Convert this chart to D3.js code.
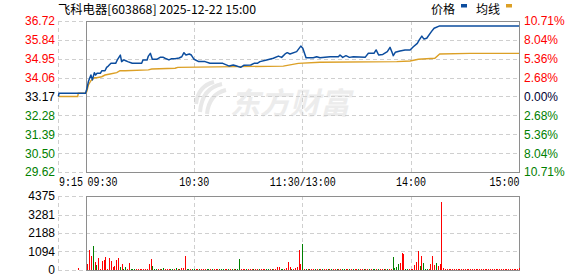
<!DOCTYPE html>
<html>
<head>
<meta charset="utf-8">
<script src="https://cdn.jsdelivr.net/npm/d3@7/dist/d3.min.js"></script>
<style>
  html, body { margin: 0; padding: 0; background: #fff; }
  svg { display: block; }
  text { font-family: "Liberation Sans", Arial, sans-serif; }
  .mono { font-family: "Liberation Mono", "DejaVu Sans Mono", monospace; }
  .cjk { font-family: "Noto Sans CJK SC", sans-serif; }
</style>
</head>
<body>
<svg id="chart" width="578" height="276"></svg>
<script>
// ── Data (minutes counted from 09:30, lunch break removed; negatives = pre-market) ──
const prevClose = 33.17;
const priceTicks = [36.72, 35.84, 34.95, 34.06, 33.17, 32.28, 31.39, 30.50, 29.62];
const pctTicks = ['10.71%', '8.04%', '5.36%', '2.68%', '0.00%', '2.68%', '5.36%', '8.04%', '10.71%'];
const volTicks = [4375, 3281, 2188, 1094, 0];
const timeTicks = [-15, 0, 60, 120, 180, 240];
const timeLabels = ['9:15', '09:30', '10:30', '11:30/13:00', '14:00', '15:00'];

const priceTimes = [-15,-14.7,0,0.7,1.6,2.3,3.0,3.8,4.9,5.6,6.4,8.2,9.0,10.8,11.7,12.6,14.1,16.7,17.8,19.3,
  20.0,21.2,22.3,23.4,25.9,31.1,31.8,34.1,34.8,35.9,37.0,39.4,41.3,43.1,44.0,46.2,47.7,49.6,51.8,53.3,
  54.5,55.6,57.5,58.6,60.1,62.7,66.2,68.9,76.0,79.6,81.8,83.7,85.9,87.8,91.5,93.3,95.1,96.6,100.3,104.0,
  106.8,108.6,110.5,111.7,113.2,116.9,119.2,120.3,122.1,126.1,128.0,129.8,135.4,140.0,140.9,142.4,144.2,146.1,148.3,154.8,
  156.6,159.7,160.9,162.3,164.6,167.1,168.6,169.7,170.4,171.5,174.1,176.9,179.7,181.5,183.7,184.8,186.2,187.4,188.9,191.5,
  193.0,196.1,240];
const priceValues = [33.17,33.32,33.32,33.51,33.87,34.03,34.18,33.95,34.29,34.18,34.26,34.26,34.38,34.38,34.54,34.60,34.73,34.73,34.92,35.12,
  34.81,34.89,34.85,34.81,34.73,34.73,34.89,34.89,35.07,35.20,34.92,34.92,35.01,35.01,34.97,34.89,34.95,34.95,34.98,35.04,
  35.23,35.12,35.17,35.12,34.92,34.81,34.81,34.73,34.73,34.60,34.65,34.60,34.54,34.64,34.65,34.73,34.73,34.81,34.89,34.97,
  35.07,35.01,35.17,35.23,35.17,35.28,35.54,35.44,34.99,34.99,35.04,34.99,35.04,35.04,35.12,35.01,35.09,35.01,35.04,35.01,
  35.20,35.20,35.36,35.12,35.15,35.28,35.48,35.25,35.09,35.25,35.31,35.36,35.36,35.51,35.67,35.83,36.01,35.87,35.91,36.22,
  36.38,36.49,36.49];

const avgTimes = [-15,-4.3,-4.0,0,0.7,1.6,3.0,4.9,6.2,9.0,10.8,13.6,17.3,19.1,21.9,34.8,36.7,49.6,51.1,109.5,
  117.8,129.8,172.3,179.7,184.3,193.4,196.1,212.7,240];
const avgValues = [33.17,33.17,33.32,33.32,33.40,33.71,33.91,34.05,34.05,34.10,34.18,34.23,34.29,34.38,34.38,34.42,34.46,34.50,34.54,34.60,
  34.73,34.78,34.81,34.84,34.92,34.97,35.17,35.20,35.20];

// pre-market auction volume
const auctionTime = -4;
const auctionVolume = 120;
// one bar per minute, 09:31 .. 15:00
const volumes = [
  355,1180,830,1420,470,300,710,60,530,590,770,60,710,530,180,240,590,710,180,355,60,180,60,410,
  60,60,60,60,60,60,60,60,60,60,
  355,650,240,60,60,60,60,60,100,60,
  60,60,60,60,60,100,60,60,100,120,
  830,60,60,60,60,60,60,60,60,60,
  60,60,60,60,60,60,60,60,60,60,
  60,60,60,60,60,60,60,60,60,60,
  650,60,60,60,60,60,60,60,60,60,
  60,60,60,60,60,60,60,60,60,60,
  60,180,180,60,60,60,120,470,180,60,
  60,120,180,1180,355,1540,
  60,60,60,60,60,60,60,60,60,60,
  60,60,60,60,60,60,60,60,60,60,
  60,60,60,60,60,60,60,60,60,60,
  60,60,60,60,60,60,60,60,60,60,
  60,60,60,60,60,60,60,60,60,770,
  120,180,355,410,1000,950,60,60,60,60,
  60,300,470,1120,240,830,410,60,60,60,
  355,830,300,410,240,355,4020,120,60,60,
  60,60,60,60,60,60,60,60,60,60,
  60,60,60,60,60,60,60,60,60,60,
  60,60,60,60,60,60,60,60,60,60,
  60,60,60,60,60,60,60,60,60,120
];
// r = up (red), g = down (green)
const volDir = ('rrrgrgrrrrrrrrrrrrgrggrr' + 'gggrrrrrrr' + 'rrgggrrggr' + 'rrggrgrgrr' + 'rggrggrrgr' +
  'rrggrgrrrg' + 'ggrrgrgrgg' + 'grrrgrrrgr' + 'rgrrrggrgr' + 'rrrggrrrrg' + 'rrrrrg' +
  'rgrgrrgrgr' + 'grrgrgrrgr' + 'rggrrgrgrr' + 'grrgrrgrgg' + 'rgrrgrgrrg' + 'gggrrrggrr' +
  'rrrrgrgggr' + 'rrrgrrrrrr' + 'rrrrrrrrrr' + 'rrrrrrrrrr' + 'rrrrrrrrrr' + 'rrrrrrrrrr').split('');

// ── Layout ──
const svg = d3.select('#chart');
const preX = 58.4, L = 85.5, R = 519;
const pTop = 21, pBot = 172, vTop = 196, vBot = 270;

const x = d3.scaleLinear().domain([-15, 240]).range([preX, R]);
const y = d3.scaleLinear().domain([29.62, 36.72]).range([pBot, pTop]);
const vy = d3.scaleLinear().domain([0, 4375]).range([vBot, vTop]);
const crisp = v => Math.round(v) + 0.5;

const RED = '#ff0000', GREEN = '#008000', BLUE = '#0c4d9e', GOLD = '#dca026';
const GRID = '#cfcfcf', FRAME = '#8e8e8e';

// ── Watermark ──
const wm = svg.append('g').attr('fill', '#ececec');
wm.append('text').attr('class', 'cjk')
  .attr('x', 230).attr('y', 114)
  .attr('font-size', 30).attr('font-weight', 'bold').attr('font-style', 'italic')
  .text('东方财富');
[[200, 112, 222, 84], [207, 114, 226, 90], [196, 104, 214, 82]].forEach(([x0, y0, x1, y1]) => {
  wm.append('path')
    .attr('d', `M${x0},${y0} Q${x0 + 2},${y1 + 4} ${x1},${y1}`)
    .attr('fill', 'none').attr('stroke', '#e8e8e8').attr('stroke-width', 4);
});

// ── Grids ──
function grid(yScale, ticks, top, bot) {
  const g = svg.append('g').attr('shape-rendering', 'crispEdges');
  g.selectAll('line.h').data(ticks).join('line')
    .attr('x1', preX).attr('x2', R)
    .attr('y1', d => crisp(yScale(d))).attr('y2', d => crisp(yScale(d)))
    .attr('stroke', GRID).attr('stroke-dasharray', '4,3');
  g.selectAll('line.v').data([-15, 60, 120, 180]).join('line')
    .attr('x1', d => crisp(x(d))).attr('x2', d => crisp(x(d)))
    .attr('y1', top).attr('y2', bot)
    .attr('stroke', GRID).attr('stroke-dasharray', '4,3');
  g.append('rect')
    .attr('x', crisp(L)).attr('y', crisp(top))
    .attr('width', Math.round(R) - Math.round(L)).attr('height', Math.round(bot) - Math.round(top))
    .attr('fill', 'none').attr('stroke', FRAME);
}
grid(y, priceTicks, pTop, pBot);
grid(vy, volTicks, vTop, vBot);

// ── Price axes ──
const leftColor = (d, i) => i < 4 ? RED : (i === 4 ? '#000' : GREEN);
const rightColor = (d, i) => i < 4 ? RED : (i === 4 ? '#000033' : GREEN);

const yl = svg.append('g').attr('transform', `translate(${preX - 0.4},0)`)
  .call(d3.axisLeft(y).tickValues(priceTicks).tickSize(0).tickPadding(3).tickFormat(d3.format('.2f')));
yl.select('.domain').remove();
yl.selectAll('text').attr('font-size', 12).attr('font-family', '"Liberation Sans", Arial, sans-serif')
  .attr('fill', leftColor);

const yr = svg.append('g').attr('transform', `translate(${R},0)`)
  .call(d3.axisRight(y).tickValues(priceTicks).tickSize(0).tickPadding(5).tickFormat((d, i) => pctTicks[i]));
yr.select('.domain').remove();
yr.selectAll('text').attr('font-size', 12).attr('font-family', '"Liberation Sans", Arial, sans-serif')
  .attr('fill', rightColor);

// ── Volume axis ──
const vl = svg.append('g').attr('transform', `translate(${preX - 0.4},0)`)
  .call(d3.axisLeft(vy).tickValues(volTicks).tickSize(0).tickPadding(3).tickFormat(d3.format('d')));
vl.select('.domain').remove();
vl.selectAll('text').attr('font-size', 12).attr('font-family', '"Liberation Sans", Arial, sans-serif')
  .attr('fill', '#000');

// ── Time axis ──
const xa = svg.append('g').attr('transform', `translate(0,${pBot})`)
  .call(d3.axisBottom(x).tickValues(timeTicks).tickSize(0).tickPadding(5).tickFormat((d, i) => timeLabels[i]));
xa.select('.domain').remove();
xa.selectAll('text')
  .attr('class', 'mono').attr('font-size', 12).attr('fill', '#000')
  .attr('font-family', '"Liberation Mono", "DejaVu Sans Mono", monospace')
  .attr('textLength', (d, i) => timeLabels[i].length * 6)
  .attr('lengthAdjust', 'spacingAndGlyphs')
  .attr('text-anchor', (d, i) => i < 2 ? 'start' : (i === timeTicks.length - 1 ? 'end' : 'middle'))
  .attr('dx', (d, i) => i === 1 ? 1.5 : 0);

// ── Lines ──
const avgLine = d3.line().x(d => x(d[0])).y(d => y(d[1]));
svg.append('path')
  .datum(d3.zip(avgTimes, avgValues))
  .attr('d', avgLine).attr('fill', 'none').attr('stroke', GOLD).attr('stroke-width', 1.4);
svg.append('path')
  .datum(d3.zip(priceTimes, priceValues))
  .attr('d', avgLine).attr('fill', 'none').attr('stroke', BLUE).attr('stroke-width', 1.5)
  .attr('stroke-linejoin', 'round');

// ── Volume bars ──
const volData = volumes.map((v, i) => ({ t: i + 1, v, dir: volDir[i] }));
volData.unshift({ t: auctionTime, v: auctionVolume, dir: 'r' });
svg.append('g').attr('shape-rendering', 'crispEdges')
  .selectAll('rect').data(volData).join('rect')
  .attr('x', d => Math.round(x(d.t)))
  .attr('width', 1)
  .attr('y', d => Math.round(vy(d.v)))
  .attr('height', d => Math.max(1, vBot - Math.round(vy(d.v))))
  .attr('fill', d => d.dir === 'r' ? RED : GREEN);

// ── Title & legend ──
svg.append('text').attr('class', 'cjk')
  .attr('x', 58).attr('y', 14).attr('font-size', 12).attr('fill', '#000')
  .attr('textLength', 198).attr('lengthAdjust', 'spacingAndGlyphs')
  .text('飞科电器[603868] 2025-12-22 15:00');

const legend = [{ name: '价格', color: BLUE, x: 431 }, { name: '均线', color: GOLD, x: 476 }];
legend.forEach(l => {
  svg.append('text').attr('class', 'cjk')
    .attr('x', l.x).attr('y', 14).attr('font-size', 12).attr('fill', '#000').text(l.name);
  svg.append('rect').attr('x', l.x + 30).attr('y', 4).attr('width', 6).attr('height', 3.5).attr('fill', l.color);
});
</script>
</body>
</html>
